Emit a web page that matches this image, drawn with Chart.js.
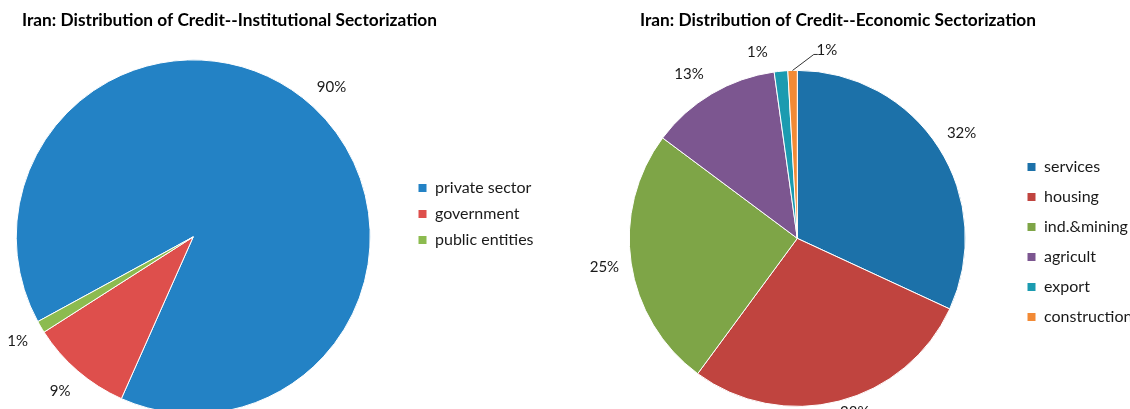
<!DOCTYPE html>
<html>
<head>
<meta charset="utf-8">
<script src="https://cdn.jsdelivr.net/npm/chart.js@4"></script>
<style>
  html, body { margin: 0; padding: 0; background: #fff; overflow: hidden; }
  body { width: 1130px; height: 409px; position: relative; }
  .panel { position: absolute; top: 0; width: 565px; height: 470px; }
  #left { left: 0; }
  #right { left: 565px; }
</style>
</head>
<body>
<div class="panel" id="left"><canvas id="instChart" width="565" height="470"></canvas></div>
<div class="panel" id="right"><canvas id="econChart" width="565" height="470"></canvas></div>
<script>
/* Institutional sectorization */
var instLabels = ['private sector', 'government', 'public entities'];
var instShare = [89.6, 9.3, 1.1];
var instColors = ['#2382c5', '#de4f4c', '#8cbb4f'];

/* Economic sectorization */
var econLabels = ['services', 'housing', 'ind.&mining', 'agricult', 'export', 'construction'];
var econShare = [31.9, 28.2, 25.1, 12.6, 1.3, 0.9];
var econColors = ['#1c71a9', '#c0443f', '#7ea547', '#7c5690', '#1b9bb0', '#f28a35'];

var fontFamily = 'Lato, "Open Sans", sans-serif';
Chart.defaults.font.family = fontFamily;
Chart.defaults.color = '#1a1a1a';

/* percentage labels just outside each slice */
var outsideLabels = {
  id: 'outsideLabels',
  afterDatasetsDraw: function (chart, args, opts) {
    var ctx = chart.ctx;
    var meta = chart.getDatasetMeta(0);
    var values = chart.data.datasets[0].data;
    var total = values.reduce(function (a, b) { return a + b; }, 0);
    ctx.save();
    ctx.font = opts.size + 'px ' + fontFamily;
    ctx.fillStyle = opts.color;
    ctx.strokeStyle = '#333';
    ctx.lineWidth = 1;
    ctx.textAlign = 'center';
    ctx.textBaseline = 'middle';
    meta.data.forEach(function (arc, i) {
      var p = arc.getProps(['x', 'y', 'startAngle', 'endAngle', 'outerRadius'], true);
      var mid = (p.startAngle + p.endAngle) / 2;
      var r = p.outerRadius + opts.gap;
      var shift = (opts.shift && opts.shift[i]) || [0, 0];
      var tx = p.x + Math.cos(mid) * r + shift[0];
      var ty = p.y + Math.sin(mid) * r + shift[1];
      if (opts.leader && opts.leader[i]) {
        ctx.beginPath();
        ctx.moveTo(p.x + Math.cos(mid) * p.outerRadius, p.y + Math.sin(mid) * p.outerRadius);
        ctx.lineTo(tx - 13, ty + 4);
        ctx.lineTo(tx - 9, ty + 4);
        ctx.stroke();
      }
      ctx.fillText(Math.round(values[i] / total * 100) + '%', tx, ty);
    });
    ctx.restore();
  }
};

/* put the legend's first entry at a given spot beside the pie */
var legendPlace = {
  id: 'legendPlace',
  afterLayout: function (chart, args, opts) {
    var lg = chart.legend;
    var pad = lg.options.labels.padding;
    var dx = opts.x - (lg.left + pad);
    var dy = opts.y - (lg.top + pad);
    lg.left += dx;
    lg.right += dx;
    lg.top += dy;
    lg.bottom += dy;
  }
};

function titleOpts(text) {
  return {
    display: true,
    text: text,
    align: 'start',
    color: '#000',
    font: { size: 17.3, weight: 'bold' },
    padding: { top: 10, bottom: 10 }
  };
}

function legendOpts(gap) {
  return {
    position: 'right',
    align: 'start',
    fullSize: false,
    labels: {
      boxWidth: 9,
      boxHeight: 9,
      padding: gap,
      color: '#1a1a1a',
      font: { size: 16 }
    }
  };
}

var instChart = new Chart(document.getElementById('instChart'), {
  type: 'pie',
  data: {
    labels: instLabels,
    datasets: [{
      data: instShare,
      backgroundColor: instColors,
      borderColor: '#fff',
      borderWidth: 1,
      clip: false
    }]
  },
  options: {
    responsive: false,
    animation: false,
    radius: 177,
    rotation: 241.4,
    layout: { padding: { left: 22, right: 65, top: 0, bottom: 37 } },
    plugins: {
      title: titleOpts('Iran: Distribution of Credit--Institutional Sectorization'),
      legend: legendOpts(10),
      tooltip: { enabled: false },
      legendPlace: { x: 418, y: 180 },
      outsideLabels: { size: 15, color: '#1a1a1a', gap: 27 }
    }
  },
  plugins: [outsideLabels, legendPlace]
});

var econChart = new Chart(document.getElementById('econChart'), {
  type: 'pie',
  data: {
    labels: econLabels,
    datasets: [{
      data: econShare,
      backgroundColor: econColors,
      borderColor: '#fff',
      borderWidth: 1,
      clip: false
    }]
  },
  options: {
    responsive: false,
    animation: false,
    radius: 168,
    rotation: 0,
    layout: { padding: { left: 75, right: 46, top: 0, bottom: 34 } },
    plugins: {
      title: titleOpts('Iran: Distribution of Credit--Economic Sectorization'),
      legend: legendOpts(14),
      tooltip: { enabled: false },
      legendPlace: { x: 462, y: 159 },
      outsideLabels: {
        size: 15, color: '#1a1a1a', gap: 27,
        shift: [[0, 0], [9, -15], [0, 0], [-9, 4], [-21, 8], [35, 7]],
        leader: [false, false, false, false, false, true]
      }
    }
  },
  plugins: [outsideLabels, legendPlace]
});
</script>
</body>
</html>
